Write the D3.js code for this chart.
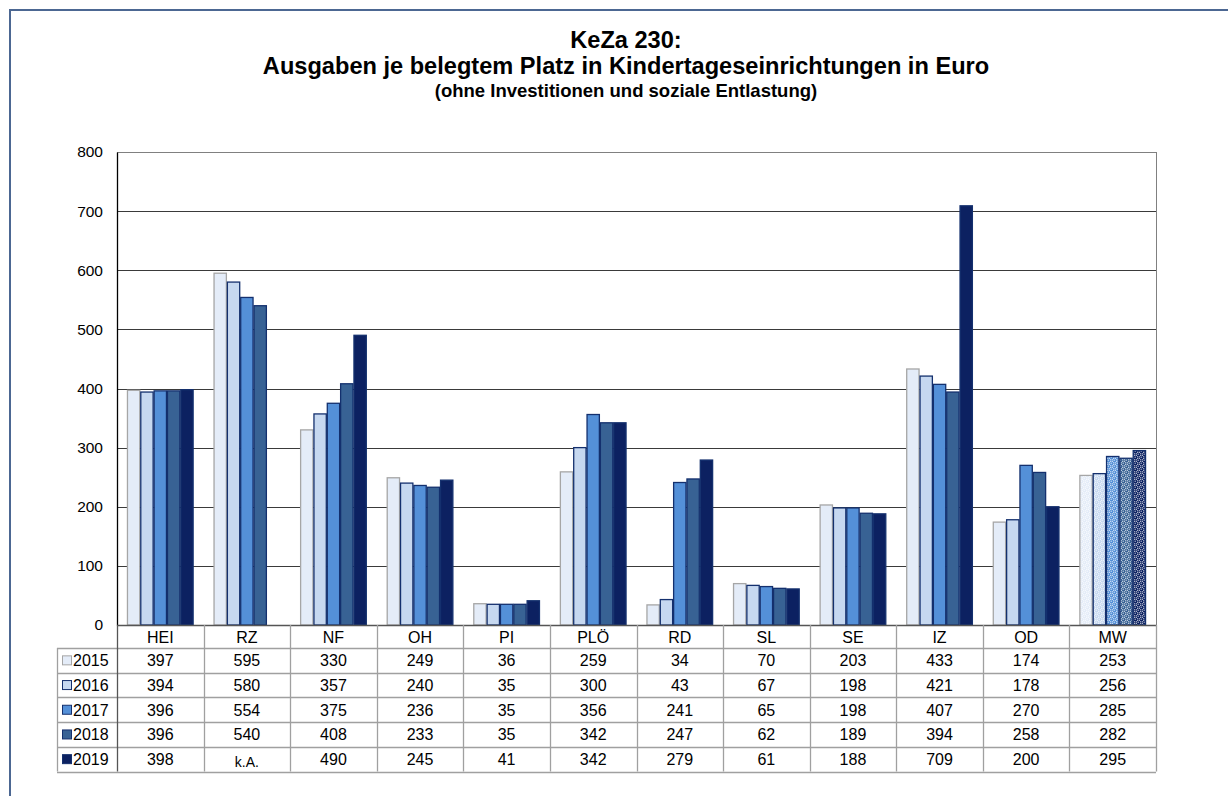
<!DOCTYPE html>
<html>
<head>
<meta charset="utf-8">
<script src="https://cdn.jsdelivr.net/npm/d3@7"></script>
<style>
  html, body { margin: 0; padding: 0; background: #fff; }
  svg { display: block; font-family: "Liberation Sans", Arial, sans-serif; }
</style>
</head>
<body>
<svg id="chart" width="1228" height="796"></svg>
<script>
// Kreise / Städte
const categories = ["HEI", "RZ", "NF", "OH", "PI", "PLÖ", "RD", "SL", "SE", "IZ", "OD", "MW"];
const years = ["2015", "2016", "2017", "2018", "2019"];

// Ausgaben je belegtem Platz (Euro), null = keine Angabe
const v2015 = [397, 595, 330, 249, 36, 259, 34, 70, 203, 433, 174, 253];
const v2016 = [394, 580, 357, 240, 35, 300, 43, 67, 198, 421, 178, 256];
const v2017 = [396, 554, 375, 236, 35, 356, 241, 65, 198, 407, 270, 285];
const v2018 = [396, 540, 408, 233, 35, 342, 247, 62, 189, 394, 258, 282];
const v2019 = [398, null, 490, 245, 41, 342, 279, 61, 188, 709, 200, 295];
const series = [v2015, v2016, v2017, v2018, v2019];

const yTicks = [0, 100, 200, 300, 400, 500, 600, 700, 800];
const titleLines = ["KeZa 230:", "Ausgaben je belegtem Platz in Kindertageseinrichtungen in Euro"];
const subtitle = "(ohne Investitionen und soziale Entlastung)";

const fills = ["#e4ecf8", "#c6d8f0", "#5490d8", "#386294", "#0c2161"];
const strokes = ["#a6a6a6", "#14306e", "#14306e", "#14306e", "#14306e"];

const svg = d3.select("#chart");

// outer frame (left and top edges)
svg.append("path")
  .attr("d", "M10,796 L10,10 L1228,10")
  .attr("fill", "none")
  .attr("stroke", "#4c6792")
  .attr("stroke-width", 2);

// titles
svg.append("text").attr("x", 626).attr("y", 48).attr("text-anchor", "middle")
  .attr("font-size", 23.6).attr("font-weight", "bold").text(titleLines[0]);
svg.append("text").attr("x", 626).attr("y", 74).attr("text-anchor", "middle")
  .attr("font-size", 23.6).attr("font-weight", "bold").text(titleLines[1]);
svg.append("text").attr("x", 626).attr("y", 97).attr("text-anchor", "middle")
  .attr("font-size", 18.5).attr("font-weight", "bold").text(subtitle);

const plotLeft = 117, plotRight = 1156, plotTop = 152, plotBottom = 625;

const x = d3.scaleBand().domain(categories).range([plotLeft, plotRight]).paddingInner(0).paddingOuter(0);
const bw = x.bandwidth();
const inner = d3.scaleBand().domain(years).range([bw * 0.115, bw * 0.885]).padding(0);
const y = d3.scaleLinear().domain([0, 800]).range([plotBottom, plotTop]);

// patterns for the average (MW) bars
const defs = svg.append("defs");
years.forEach((yr, i) => {
  const p = defs.append("pattern")
    .attr("id", "pat" + i)
    .attr("patternUnits", "userSpaceOnUse")
    .attr("width", 6).attr("height", 6);
  p.append("rect").attr("width", 6).attr("height", 6).attr("fill", "#ffffff");
  p.append("rect").attr("x", 0).attr("y", 0).attr("width", 3).attr("height", 3).attr("fill", fills[i]);
  p.append("rect").attr("x", 3).attr("y", 3).attr("width", 3).attr("height", 3).attr("fill", fills[i]);
  p.append("circle").attr("cx", 4.5).attr("cy", 1.5).attr("r", 1.4).attr("fill", fills[i]).attr("opacity", 0.85);
  p.append("circle").attr("cx", 1.5).attr("cy", 4.5).attr("r", 1.4).attr("fill", fills[i]).attr("opacity", 0.85);
  p.append("circle").attr("cx", 1.2).attr("cy", 1.2).attr("r", 0.7).attr("fill", "#ffffff").attr("opacity", 0.7);
  p.append("circle").attr("cx", 4.2).attr("cy", 4.2).attr("r", 0.7).attr("fill", "#ffffff").attr("opacity", 0.7);
});

// gridlines
svg.append("g").selectAll("line").data(yTicks.filter(t => t > 0)).join("line")
  .attr("x1", plotLeft).attr("x2", plotRight)
  .attr("y1", d => Math.round(y(d)) + 0.5).attr("y2", d => Math.round(y(d)) + 0.5)
  .attr("stroke", d => d === 800 ? "#808080" : "#3a3a3a").attr("stroke-width", 1);

// right border of plot area
svg.append("line").attr("x1", plotRight + 0.5).attr("x2", plotRight + 0.5)
  .attr("y1", plotTop).attr("y2", plotBottom).attr("stroke", "#808080");

// bars
const barG = svg.append("g");
series.forEach((vals, si) => {
  barG.append("g").selectAll("rect")
    .data(categories.map((c, ci) => ({ c, v: vals[ci] })).filter(d => d.v != null))
    .join("rect")
    .attr("x", d => x(d.c) + inner(years[si]) + 0.5)
    .attr("y", d => y(d.v))
    .attr("width", inner.bandwidth() - 1)
    .attr("height", d => y(0) - y(d.v))
    .attr("fill", d => d.c === "MW" ? `url(#pat${si})` : fills[si])
    .attr("stroke", strokes[si])
    .attr("stroke-width", 1.3);
});

// y axis
const yAxis = d3.axisLeft(y).tickValues(yTicks).tickSize(0).tickPadding(14).tickFormat(d3.format("d"));
const ya = svg.append("g").attr("transform", `translate(${plotLeft},0)`).call(yAxis);
ya.select(".domain").attr("stroke", "#000").attr("stroke-width", 1.3);
ya.selectAll("text").attr("font-size", 15.5).attr("font-family", "Liberation Sans, Arial, sans-serif").attr("fill", "#000");

// x-axis baseline
svg.append("line").attr("x1", plotLeft).attr("x2", plotRight).attr("y1", plotBottom + 0.5).attr("y2", plotBottom + 0.5)
  .attr("stroke", "#555").attr("stroke-width", 1.5);

// data table
const rowH = 24.7;
const headH = 23;
const tableLeft = 57;
const tG = svg.append("g");
const gridCol = "#a0a0a0";

// category labels
tG.selectAll("text.cat").data(categories).join("text")
  .attr("class", "cat")
  .attr("x", d => x(d) + bw / 2)
  .attr("y", plotBottom + headH / 2 + 6)
  .attr("text-anchor", "middle").attr("font-size", 16).text(d => d);

// horizontal lines
for (let r = 0; r <= years.length; r++) {
  const yy = Math.round(plotBottom + headH + r * rowH) + 0.5;
  tG.append("line").attr("x1", tableLeft).attr("x2", plotRight).attr("y1", yy).attr("y2", yy)
    .attr("stroke", gridCol).attr("stroke-width", 1.3);
}
// vertical lines
const tableBottom = plotBottom + headH + years.length * rowH;
tG.append("line").attr("x1", tableLeft + 0.5).attr("x2", tableLeft + 0.5)
  .attr("y1", plotBottom + headH).attr("y2", tableBottom).attr("stroke", gridCol).attr("stroke-width", 1.3);
categories.forEach(c => {
  const xx = Math.round(x(c)) + 0.5;
  tG.append("line").attr("x1", xx).attr("x2", xx).attr("y1", plotBottom).attr("y2", tableBottom)
    .attr("stroke", c === categories[0] ? "#555" : gridCol).attr("stroke-width", 1.3);
});
tG.append("line").attr("x1", plotRight + 0.5).attr("x2", plotRight + 0.5)
  .attr("y1", plotBottom).attr("y2", tableBottom).attr("stroke", gridCol).attr("stroke-width", 1.3);

// rows: legend key + values
years.forEach((yr, si) => {
  const cy = plotBottom + headH + si * rowH + rowH / 2;
  tG.append("rect").attr("x", 62.5).attr("y", cy - 4.5).attr("width", 9).attr("height", 9)
    .attr("fill", fills[si]).attr("stroke", strokes[si]).attr("stroke-width", 1);
  tG.append("text").attr("x", 73).attr("y", cy + 6).attr("font-size", 16).text(yr);
  tG.append("g").selectAll("text").data(categories).join("text")
    .attr("x", d => x(d) + bw / 2)
    .attr("y", (d, ci) => series[si][ci] == null ? cy + 7.5 : cy + 6)
    .attr("text-anchor", "middle")
    .attr("font-size", (d, ci) => series[si][ci] == null ? 14 : 16)
    .text((d, ci) => series[si][ci] == null ? "k.A." : series[si][ci]);
});
</script>
</body>
</html>
